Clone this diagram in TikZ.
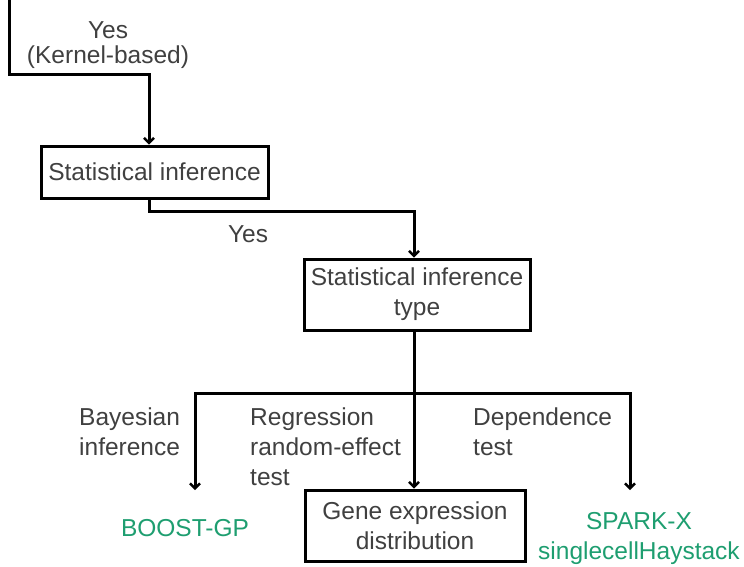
\documentclass[tikz,border=0pt]{standalone}
\usepackage{fontspec}
\setmainfont{Liberation Sans}
\usetikzlibrary{arrows.meta}
\definecolor{txt}{RGB}{64,64,64}
\definecolor{grn}{RGB}{30,158,112}
\begin{document}
\begin{tikzpicture}[x=1pt,y=-1pt,
  every node/.style={font=\fontsize{24.5}{30}\selectfont, text=txt, align=center, inner sep=0pt},
  box/.style={draw=black, line width=3pt},
  conn/.style={line width=3pt, draw=black},
  arr/.style={conn, -{Straight Barb[length=5pt,width=10pt,line width=2.4pt]}},
  lbl/.style={align=left, anchor=north west},
  tool/.style={text=grn}]
\useasboundingbox (0,0) rectangle (744,566);
% boxes
\node[box, minimum width=227pt, minimum height=52pt] (si) at (154.5,172) {Statistical inference};
\node[box, minimum width=226pt, minimum height=71pt] (sit) at (417,294.5) {Statistical inference\\type};
\node[box, minimum width=220pt, minimum height=71pt] (ged) at (415,525.5) {Gene expression\\distribution};
% free coordinates
\coordinate (top) at (9,0);
\coordinate (c1) at (9,74);
\coordinate (c2) at (149,74);
\coordinate (c3) at (149,211);
\coordinate (c4) at (414,211);
\coordinate (hub) at (414,393);
\coordinate (hl) at (195,393);
\coordinate (hr) at (630,393);
\coordinate (el) at (195,490);
\coordinate (er) at (630,490);
% connectors
\draw[arr] (top) -- (c1) -- (c2) -- (si.north -| c2);
\draw[arr] (si.south -| c3) -- (c3) -- (c4) -- (sit.north -| c4);
\draw[conn] (sit.south -| hub) -- (hub);
\draw[arr] (hub) -- (hl) -- (el);
\draw[arr] (hub) -- (hr) -- (er);
\draw[arr] (hub) -- (ged.north -| hub);
% labels
\node[font=\fontsize{24.5}{25}\selectfont] (yk) at (108,45) {Yes\\(Kernel-based)};
\node (yes) at (248,234) {Yes};
\node[lbl] (bay) at (79,408) {Bayesian\\inference};
\node[lbl] (reg) at (250,408) {Regression\\random-effect\\test};
\node[lbl] (dep) at (473,408) {Dependence\\test};
% tools
\node[tool] (bgp) at (185,528) {BOOST-GP};
\node[tool] (spx) at (639,538) {SPARK-X\\singlecellHaystack};
\end{tikzpicture}
\end{document}
